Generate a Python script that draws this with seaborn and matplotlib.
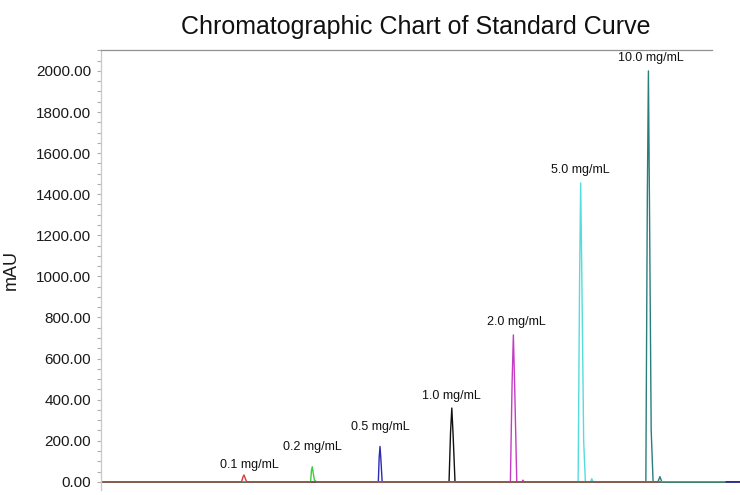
import numpy as np
import pandas as pd
import matplotlib
matplotlib.use("Agg")
import matplotlib.pyplot as plt
import seaborn as sns
from matplotlib.ticker import MultipleLocator, FormatStrFormatter

# ---------------- data ----------------
conc_labels = ["0.1 mg/mL", "0.2 mg/mL", "0.5 mg/mL", "1.0 mg/mL",
               "2.0 mg/mL", "5.0 mg/mL", "10.0 mg/mL"]

t_01 = [0.0, 6.60, 6.66, 6.71, 6.76, 6.84, 26.24]
y_01 = [0, 0, 22, 33, 20, 0, 0]

t_02 = [0.0, 9.84, 9.88, 9.92, 9.96, 10.02, 10.12, 29.30]
y_02 = [0, 0, 55, 73, 45, 8, 0, 0]

t_05 = [0.0, 13.02, 13.06, 13.10, 13.14, 13.20, 30.0]
y_05 = [0, 0, 120, 172, 110, 0, 0]

t_10 = [0.0, 16.34, 16.41, 16.47, 16.53, 16.62, 30.0]
y_10 = [0, 0, 240, 359, 230, 0, 0]

t_20 = [0.0, 19.22, 19.30, 19.36, 19.42, 19.52, 19.76, 19.81, 19.86, 30.0]
y_20 = [0, 0, 480, 715, 470, 0, 0, 8, 0, 0]

t_50 = [0.0, 22.40, 22.47, 22.52, 22.58, 22.66, 22.74, 22.98, 23.04, 23.10, 30.0]
y_50 = [0, 0, 1000, 1455, 950, 200, 0, 0, 15, 0, 0]

t_100 = [0.0, 25.58, 25.65, 25.70, 25.75, 25.83, 25.92, 26.15, 26.24, 26.33, 30.0]
y_100 = [0, 0, 1400, 2000, 1350, 250, 0, 0, 25, 0, 0]

y_ticks = [0, 200, 400, 600, 800, 1000, 1200, 1400, 1600, 1800, 2000]

# ---------------- styles ----------------
colors = ["#d43a3a", "#3ccc3c", "#2a2ab4", "#111111",
          "#c43cc4", "#55dcdc", "#2a7d7d"]
label_offsets = [(4, 7), (0, 14), (0, 14), (0, 9), (2, 9), (0, 9.5), (2, 9)]

traces = [(t_01, y_01), (t_02, y_02), (t_05, y_05), (t_10, y_10),
          (t_20, y_20), (t_50, y_50), (t_100, y_100)]

frames = []
for lab, (t, y) in zip(conc_labels, traces):
    frames.append(pd.DataFrame({"time": t, "mAU": y, "conc": lab}))
df = pd.concat(frames, ignore_index=True)

sns.set_theme(style="white")
plt.rcParams["font.family"] = ["Liberation Sans", "DejaVu Sans"]

fig = plt.figure(figsize=(7.4, 4.95), dpi=100)
ax = fig.add_axes([101 / 740, 5 / 495, 639 / 740, 440 / 495])

palette = dict(zip(conc_labels, colors))
# draw highest concentration first so low-concentration baselines sit on top
sns.lineplot(data=df, x="time", y="mAU", hue="conc",
             hue_order=conc_labels[::-1], palette=palette,
             sort=False, estimator=None, legend=False,
             linewidth=1.0, ax=ax)

# peak labels
for lab, (t, y), off in zip(conc_labels, traces, label_offsets):
    i = int(np.argmax(y))
    ax.annotate(lab, xy=(t[i], y[i]), xytext=off, textcoords="offset points",
                ha="center", va="center", fontsize=9, color="#111111")

ax.set_xlim(0, 30)
ax.set_ylim(-40, 2102)
ax.set_yticks(y_ticks)
ax.yaxis.set_major_formatter(FormatStrFormatter("%.2f"))
ax.yaxis.set_minor_locator(MultipleLocator(50))
ax.tick_params(axis="y", which="both", left=True, length=3, width=0.8,
               color="#b0b0b0", labelsize=11, labelcolor="#1a1a1a", pad=4)
ax.tick_params(axis="x", bottom=False, labelbottom=False)
ax.set_xlabel("")
ax.set_ylabel("mAU", fontsize=13, color="#1a1a1a")
ax.yaxis.set_label_coords(-0.127, 0.5)

for s in ["bottom", "right"]:
    ax.spines[s].set_visible(False)
ax.spines["left"].set_color("#c8c8c8")
ax.spines["left"].set_linewidth(0.9)
ax.spines["top"].set_color("#909090")
ax.spines["top"].set_linewidth(0.9)
ax.spines["top"].set_bounds(0, 28.7)
ax.grid(False)

fig.text(416 / 740, 1 - 34 / 495, "Chromatographic Chart of Standard Curve",
         ha="center", va="baseline", fontsize=18, color="#111111")

fig.savefig("out.png", dpi=100)
